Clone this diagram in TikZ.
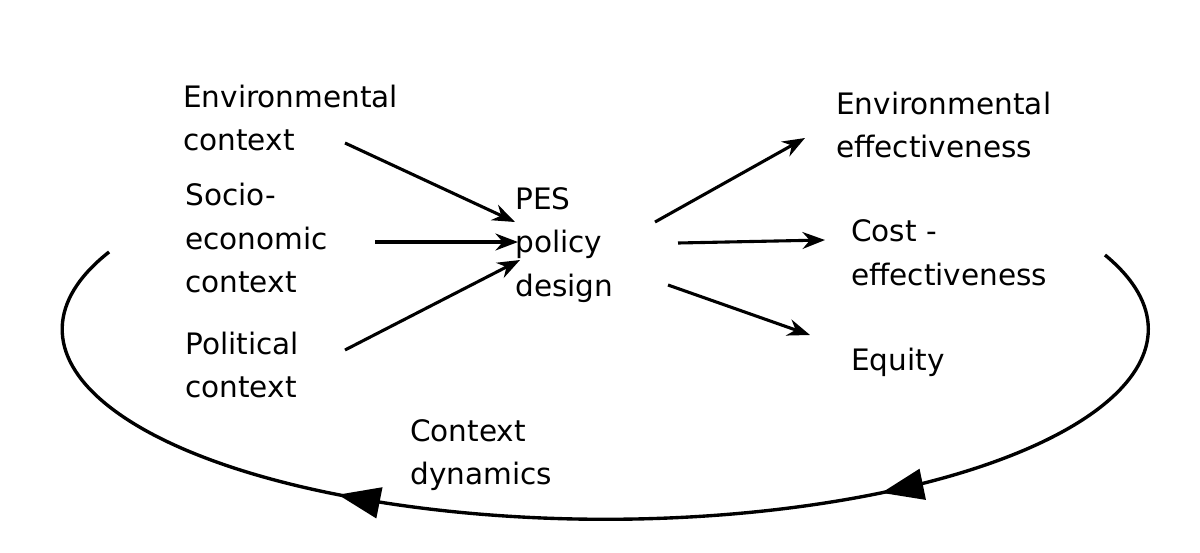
\documentclass[tikz,border=0pt]{standalone}
\usepackage{fontspec}
\setmainfont{DejaVu Sans}
\usetikzlibrary{arrows.meta,decorations.markings}
\tikzset{
    lbl/.style={anchor=west, align=left, inner sep=0pt, font=\fontsize{21}{31}\selectfont},
    link/.style={-{Stealth[length=16pt,width=12pt]}, line width=2.2pt},
    loop/.style={line width=2.4pt, postaction={decorate}, decoration={markings,
        mark=at position 0.30 with {\arrow{Triangle[length=30pt,width=22pt]}},
        mark=at position 0.69 with {\arrow{Triangle[length=30pt,width=22pt]}}}}
}
\begin{document}
\begin{tikzpicture}[x=0.025cm,y=-0.025cm]
\useasboundingbox (0,0) rectangle (1200,552);
% left column
\node[lbl] (env) at (183,118) {Environmental\\context};
\node[lbl] (soc) at (185,238) {Socio-\\economic\\context};
\node[lbl] (pol) at (185,365) {Political\\context};
% centre
\node[lbl] (pes) at (515,245) {PES\\policy\\design};
% right column
\node[lbl] (eff) at (836,125) {Environmental\\effectiveness};
\node[lbl] (cost) at (851,253) {Cost -\\effectiveness};
\node[lbl] (eq) at (851,362) {Equity};
\node[lbl] (dyn) at (410,455) {Context\\dynamics};
% links
\draw[link] (345,143) -- (515,222);
\draw[link] (375,242) -- (518,242);
\draw[link] (345,350) -- (520,260);
\draw[link] (655,222) -- (805,138);
\draw[link] (678,243) -- (825,240);
\draw[link] (668,285) -- (810,335);
% feedback loop
\draw[loop] (1105,255) arc[start angle=23, end angle=-204, x radius=543, y radius=-190];
\end{tikzpicture}
\end{document}
